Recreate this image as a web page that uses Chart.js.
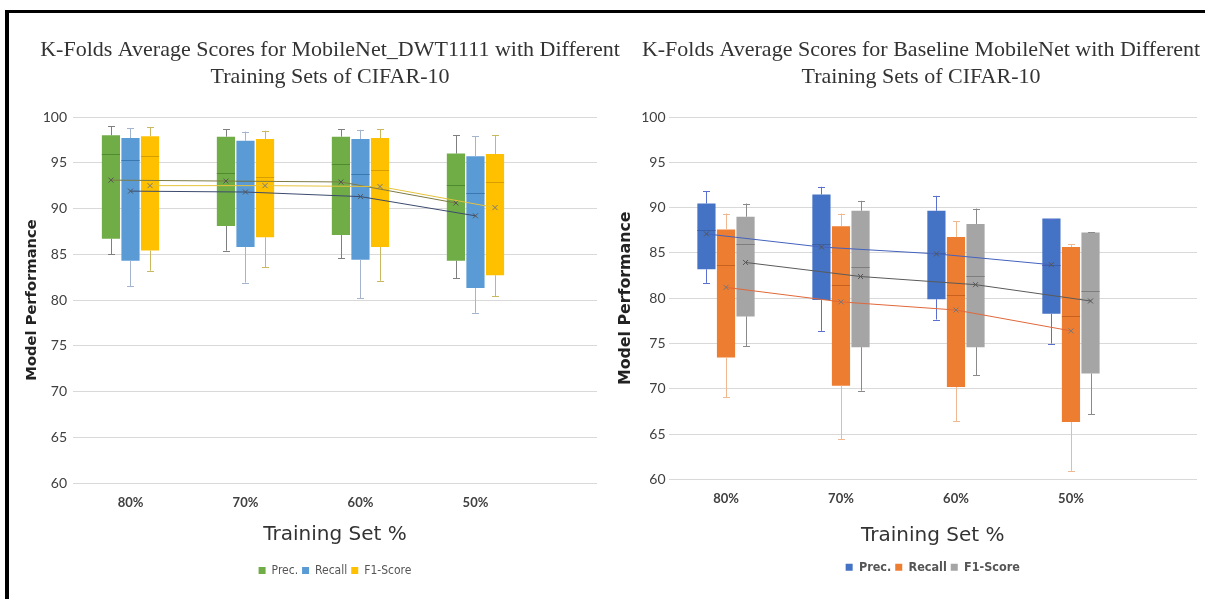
<!DOCTYPE html>
<html>
<head>
<meta charset="utf-8">
<script src="https://cdn.jsdelivr.net/npm/chart.js@4.4.1/dist/chart.umd.min.js"></script>
<style>
  html, body { margin: 0; padding: 0; width: 1205px; height: 599px; overflow: hidden; background: #fff; }
  .frameTop { position: absolute; left: 5px; top: 10px; width: 1200px; height: 3px; background: #000; }
  .frameLeft { position: absolute; left: 5px; top: 10px; width: 4px; height: 589px; background: #000; }
  canvas { position: absolute; top: 0; }
  #c1 { left: 10px; }
  #c2 { left: 612px; }
</style>
</head>
<body>
<div class="frameTop"></div>
<div class="frameLeft"></div>
<canvas id="c1" width="640" height="599"></canvas>
<canvas id="c2" width="618" height="599"></canvas>
<script>
// ---------- DATA ----------
const categories = ['80%', '70%', '60%', '50%'];
const seriesNames = ['Prec.', 'Recall', 'F1-Score'];
const yTicksMin = 60, yTicksMax = 100, yTickStep = 5;

// Left chart: MobileNet_DWT1111
const dwtPrec   = { min: [85.0, 85.4, 84.55, 82.4], q1: [86.7, 88.1, 87.1, 84.3], med: [96.0, 93.9, 94.9, 92.6], q3: [98.0, 97.85, 97.85, 96.0], max: [99.0, 98.65, 98.65, 98.0], mean: [93.1, 93.0, 92.9, 90.6] };
const dwtRecall = { min: [81.5, 81.9, 80.2, 78.6], q1: [84.3, 85.8, 84.4, 81.3], med: [95.3, 93.0, 93.8, 91.7], q3: [97.7, 97.4, 97.6, 95.7], max: [98.8, 98.4, 98.6, 97.9], mean: [91.9, 91.8, 91.3, 89.2] };
const dwtF1     = { min: [83.2, 83.6, 82.1, 80.4], q1: [85.4, 86.85, 85.8, 82.7], med: [95.7, 93.4, 94.2, 92.9], q3: [97.9, 97.6, 97.7, 95.95], max: [98.9, 98.5, 98.65, 98.0], mean: [92.5, 92.5, 92.4, 90.1] };

// Right chart: Baseline MobileNet
const basePrec   = { min: [81.7, 76.4, 77.65, 75.0], q1: [83.2, 79.8, 79.9, 78.3], med: [87.5, 86.0, 85.0, 83.7], q3: [90.45, 91.45, 89.65, 88.8], max: [91.8, 92.3, 91.3, 88.8], mean: [87.1, 85.65, 84.9, 83.7] };
const baseRecall = { min: [69.1, 64.45, 66.4, 60.95], q1: [73.45, 70.35, 70.2, 66.35], med: [83.7, 81.5, 80.4, 78.05], q3: [87.6, 87.95, 86.75, 85.65], max: [89.35, 89.35, 88.5, 85.95], mean: [81.2, 79.6, 78.7, 76.4] };
const baseF1     = { min: [74.7, 69.8, 71.5, 67.2], q1: [78.0, 74.6, 74.6, 71.7], med: [85.95, 83.5, 82.5, 80.8], q3: [89.0, 89.65, 88.2, 87.25], max: [90.45, 90.75, 89.9, 87.3], mean: [83.95, 82.4, 81.5, 79.7] };

const titleLeft = ['K-Folds Average Scores for MobileNet_DWT1111 with Different', 'Training Sets of CIFAR-10'];
const titleRight = ['K-Folds Average Scores for Baseline MobileNet with Different', 'Training Sets of CIFAR-10'];
const xTitle = 'Training Set %';
const yTitle = 'Model Performance';

// ---------- STYLES ----------
const leftStyles = [
  { fill: '#70AD47', median: '#4E8A2E', whisker: '#7F7F7F', meanLine: '#7D7A45', marker: '#555' },
  { fill: '#5B9BD5', median: '#3A78B0', whisker: '#A3B4CC', meanLine: '#3B4A6E', marker: '#555' },
  { fill: '#FFC000', median: '#D79E00', whisker: '#C9B860', meanLine: '#E6C33A', marker: '#777' }
];
const rightStyles = [
  { fill: '#4472C4', median: '#3A5FA8', whisker: '#5B6FD0', meanLine: '#4462BE', marker: '#555' },
  { fill: '#ED7D31', median: '#C8601E', whisker: '#EFB890', meanLine: '#E0683A', marker: '#777' },
  { fill: '#A5A5A5', median: '#7E7E7E', whisker: '#8A8A8A', meanLine: '#5A5A5A', marker: '#555' }
];

const boxExtras = {
  id: 'boxExtras',
  afterDatasetsDraw(chart) {
    const ctx = chart.ctx;
    const ys = chart.scales.y;
    ctx.save();
    chart.data.datasets.forEach((ds, i) => {
      const meta = chart.getDatasetMeta(i);
      const st = ds.stats, sty = ds.sty;
      meta.data.forEach((bar, j) => {
        const x = Math.round(bar.x) + 0.5;
        const hw = bar.width / 2;
        const yMin = ys.getPixelForValue(st.min[j]);
        const yQ1 = ys.getPixelForValue(st.q1[j]);
        const yQ3 = ys.getPixelForValue(st.q3[j]);
        const yMax = ys.getPixelForValue(st.max[j]);
        const yMed = ys.getPixelForValue(st.med[j]);
        ctx.strokeStyle = sty.whisker;
        ctx.lineWidth = 1;
        ctx.beginPath();
        ctx.moveTo(x, yQ3); ctx.lineTo(x, yMax);
        ctx.moveTo(x - 3.5, Math.round(yMax) + 0.5); ctx.lineTo(x + 3.5, Math.round(yMax) + 0.5);
        ctx.moveTo(x, yQ1); ctx.lineTo(x, yMin);
        ctx.moveTo(x - 3.5, Math.round(yMin) + 0.5); ctx.lineTo(x + 3.5, Math.round(yMin) + 0.5);
        ctx.stroke();
        ctx.strokeStyle = sty.median;
        ctx.beginPath();
        ctx.moveTo(bar.x - hw, Math.round(yMed) + 0.5); ctx.lineTo(bar.x + hw, Math.round(yMed) + 0.5);
        ctx.stroke();
      });
    });
    // mean lines
    chart.data.datasets.forEach((ds, i) => {
      const meta = chart.getDatasetMeta(i);
      ctx.strokeStyle = ds.sty.meanLine;
      ctx.lineWidth = 1;
      ctx.beginPath();
      meta.data.forEach((bar, j) => {
        const yy = ys.getPixelForValue(ds.stats.mean[j]);
        if (j === 0) ctx.moveTo(bar.x, yy); else ctx.lineTo(bar.x, yy);
      });
      ctx.stroke();
      ctx.strokeStyle = ds.sty.marker;
      meta.data.forEach((bar, j) => {
        const yy = ys.getPixelForValue(ds.stats.mean[j]);
        ctx.beginPath();
        ctx.moveTo(bar.x - 2.5, yy - 2.5); ctx.lineTo(bar.x + 2.5, yy + 2.5);
        ctx.moveTo(bar.x + 2.5, yy - 2.5); ctx.lineTo(bar.x - 2.5, yy + 2.5);
        ctx.stroke();
      });
    });
    ctx.restore();
  }
};

function makeChart(id, title, series, styles, cfg) {
  const datasets = series.map((s, i) => ({
    label: seriesNames[i],
    data: categories.map((c, j) => ({ x: j, y: [s.q1[j], s.q3[j]] })),
    backgroundColor: styles[i].fill,
    borderWidth: 0,
    categoryPercentage: 0.51,
    barPercentage: 0.93,
    grouped: true,
    stats: s,
    sty: styles[i]
  }));
  return new Chart(document.getElementById(id), {
    type: 'bar',
    data: { datasets },
    plugins: [boxExtras],
    options: {
      responsive: false,
      animation: false,
      layout: { padding: { left: 0, right: 0, top: 0, bottom: cfg.padBottom } },
      plugins: {
        tooltip: { enabled: false },
        title: {
          display: true,
          text: title,
          color: '#333',
          font: { family: "'Liberation Serif', 'Times New Roman', serif", size: 22, weight: 'normal', lineHeight: 1.25 },
          padding: { top: 36, bottom: 26 }
        },
        legend: {
          display: true,
          position: 'bottom',
          fullSize: false,
          labels: {
            color: '#555',
            font: { family: "'Liberation Sans Narrow', 'DejaVu Sans Condensed', 'Lato', sans-serif", size: cfg.legendSize, weight: cfg.legendWeight },
            boxWidth: 7,
            boxHeight: 7,
            padding: 4,
            generateLabels: (chart) => chart.data.datasets.map((d, i) => ({
              text: d.label, fillStyle: d.backgroundColor, strokeStyle: d.backgroundColor, lineWidth: 0, hidden: false, datasetIndex: i, fontColor: '#555'
            }))
          }
        }
      },
      scales: {
        x: {
          type: 'linear',
          offset: false,
          min: -0.5,
          max: cfg.xMax,
          grid: { display: false, drawTicks: false },
          border: { display: false },
          afterBuildTicks: (s) => { s.ticks = categories.map((c, i) => ({ value: i })); },
          afterFit: (s) => { s.height = cfg.xHeight; },
          ticks: {
            color: '#404040',
            padding: cfg.xTickPad,
            maxRotation: 0,
            autoSkip: false,
            font: { family: "'Lato', sans-serif", size: 13, weight: 'bold' },
            callback: (v) => categories[v] !== undefined ? categories[v] : ''
          },
          title: {
            display: true,
            text: xTitle,
            color: '#333',
            font: { family: "'DejaVu Sans', sans-serif", size: 20, lineHeight: 1.2 },
            padding: { top: 0, bottom: cfg.xTitlePadBottom }
          }
        },
        y: {
          min: yTicksMin,
          max: yTicksMax,
          grid: { color: '#D9D9D9', drawTicks: false },
          border: { display: false },
          afterFit: (s) => { s.width = cfg.yWidth; },
          ticks: {
            stepSize: yTickStep,
            color: '#404040',
            padding: cfg.yTickPad,
            font: { family: "'Lato', sans-serif", size: 14 }
          },
          title: {
            display: true,
            text: yTitle,
            color: '#222',
            font: { family: "'DejaVu Sans', sans-serif", size: cfg.yTitleSize, weight: 'bold', lineHeight: 1.2 },
            padding: { top: cfg.yTitlePadTop, bottom: 0 }
          }
        },
        yR: {
          position: 'right',
          min: 0, max: 1,
          display: true,
          grid: { display: false },
          border: { display: false },
          ticks: { display: false },
          afterFit: (s) => { s.width = cfg.rightWidth; }
        }
      }
    }
  });
}

makeChart('c1', titleLeft, [dwtPrec, dwtRecall, dwtF1], leftStyles, {
  padBottom: 12.5, xMax: 4.057, xHeight: 77.5, xTitlePadBottom: 13.5, xTickPad: 12,
  yWidth: 63, yTickPad: 6, yTitlePadTop: 13.5, yTitleSize: 14.7, rightWidth: 53,
  legendSize: 12, legendWeight: 'normal'
});
makeChart('c2', titleRight, [basePrec, baseRecall, baseF1], rightStyles, {
  padBottom: 15.5, xMax: 4.096, xHeight: 77.5, xTitlePadBottom: 9.5, xTickPad: 12,
  yWidth: 56.5, yTickPad: 3, yTitlePadTop: 4.5, yTitleSize: 15.8, rightWidth: 33,
  legendSize: 12.5, legendWeight: 'bold'
});
</script>
</body>
</html>
